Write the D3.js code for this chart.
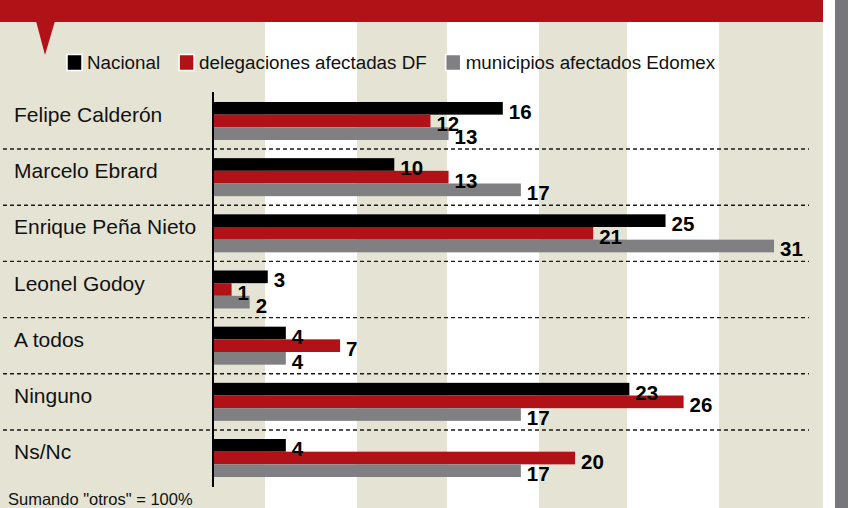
<!DOCTYPE html>
<html><head><meta charset="utf-8">
<script src="https://cdn.jsdelivr.net/npm/d3@7"></script>
<style>html,body{margin:0;padding:0;background:#fff;}svg{display:block;}</style>
</head><body>
<script>
const categories = ["Felipe Calderón","Marcelo Ebrard","Enrique Peña Nieto","Leonel Godoy","A todos","Ninguno","Ns/Nc"];
const seriesNames = ["Nacional","delegaciones afectadas DF","municipios afectados Edomex"];
const nacional = [16,10,25,3,4,23,4];
const delegacionesDF = [12,13,21,1,7,26,20];
const municipiosEdomex = [13,17,31,2,4,17,17];
const footnote = 'Sumando "otros" = 100%';

const W = 848, H = 508;
const colors = ["#000000","#b01218","#808083"];
const beige = "#e5e4d4";
const series = [nacional, delegacionesDF, municipiosEdomex];

const svg = d3.select("body").append("svg").attr("width", W).attr("height", H);

// background columns
svg.append("rect").attr("x",0).attr("y",0).attr("width",W).attr("height",H).attr("fill","#fff");
const cols = [[0,265],[357,447],[539,627],[719,823]];
svg.selectAll("rect.col").data(cols).join("rect").attr("class","col")
  .attr("x",d=>d[0]).attr("y",22).attr("width",d=>d[1]-d[0]).attr("height",H-22).attr("fill",beige);
// right grey strip
svg.append("rect").attr("x",835).attr("y",0).attr("width",13).attr("height",H).attr("fill","#77777b");
// header
svg.append("rect").attr("x",0).attr("y",0).attr("width",823).attr("height",22).attr("fill","#b01218");
svg.append("path").attr("d","M36,21 L55,21 L45,55 Z").attr("fill","#b01218");

// scales
const x = d3.scaleLinear().domain([0,31]).range([213.5,774]);
const y = d3.scaleBand().domain(categories).range([92.9,486.1]).paddingInner(0.3235).paddingOuter(0.1617);
const yi = d3.scaleBand().domain([0,1,2]).range([0,y.bandwidth()]);

// dashed separators
const sepYs = categories.slice(0,-1).map(c => y(c) + y.bandwidth() + y.step()*y.paddingInner()/2);
svg.selectAll("line.sep").data(sepYs).join("line").attr("class","sep")
  .attr("x1",3).attr("x2",809).attr("y1",d=>d).attr("y2",d=>d)
  .attr("stroke","#1a1a1a").attr("stroke-width",1.4).attr("stroke-dasharray","4,3");

// bars
const g = svg.append("g");
categories.forEach((c,ci)=>{
  series.forEach((s,si)=>{
    g.append("rect").attr("x",x(0)).attr("y",y(c)+yi(si))
      .attr("width",x(s[ci])-x(0)).attr("height",yi.bandwidth()).attr("fill",colors[si]);
  });
});
// value labels
categories.forEach((c,ci)=>{
  series.forEach((s,si)=>{
    g.append("text").attr("x",x(s[ci])+6).attr("y",y(c)+yi(si)+yi.bandwidth()/2+10.5)
      .attr("font-family","'Liberation Sans', Arial, sans-serif").attr("font-weight","bold")
      .attr("font-size",20.5).attr("fill","#000").text(s[ci]);
  });
});

// axis line
svg.append("line").attr("x1",213).attr("x2",213).attr("y1",92).attr("y2",487)
  .attr("stroke","#000").attr("stroke-width",2);

// category labels
svg.selectAll("text.cat").data(categories).join("text").attr("class","cat")
  .attr("x",14).attr("y",d=>y(d)+y.bandwidth()/2+1)
  .attr("font-family","'Liberation Sans', Arial, sans-serif").attr("font-size",21).attr("fill","#111")
  .text(d=>d);

// legend
let lx = 67;
seriesNames.forEach((n,i)=>{
  svg.append("rect").attr("x",lx).attr("y",54.5).attr("width",15).attr("height",16)
    .attr("fill",colors[i]).attr("stroke","#fff").attr("stroke-width",1.5);
  const t = svg.append("text").attr("x",lx+20).attr("y",68.5)
    .attr("font-family","'Liberation Sans', Arial, sans-serif").attr("font-size",18.8).attr("fill","#111").text(n);
  lx = lx + 20 + t.node().getComputedTextLength() + 19;
});

// footnote
svg.append("text").attr("x",8).attr("y",505)
  .attr("font-family","'Liberation Sans', Arial, sans-serif").attr("font-size",16.5).attr("fill","#111").text(footnote);
</script>
</body></html>
